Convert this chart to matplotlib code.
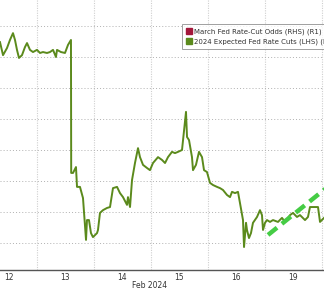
import matplotlib
matplotlib.use("Agg")
import matplotlib.pyplot as plt
from matplotlib.patches import Patch
from matplotlib import font_manager

# Day labels (trading days, Feb 2024); each day spans one unit on the x axis
day_labels = ["12", "13", "14", "15", "16", "19"]

# 2024 expected Fed rate cuts (LHS) - x in trading-day units, y in number of cuts
cuts_x = [0.351, 0.404, 0.474, 0.526, 0.579, 0.614, 0.649, 0.684, 0.737, 0.789,
          0.825, 0.877, 0.930, 1.000, 1.053, 1.105, 1.175, 1.228, 1.281, 1.333,
          1.351, 1.421, 1.491, 1.544, 1.596, 1.600, 1.632, 1.684, 1.702, 1.754,
          1.807, 1.860, 1.877, 1.912, 1.947, 1.982, 2.053, 2.070, 2.105, 2.158,
          2.228, 2.281, 2.333, 2.404, 2.456, 2.509, 2.579, 2.596, 2.632, 2.667,
          2.719, 2.772, 2.807, 2.860, 2.930, 2.982, 3.035, 3.123, 3.193, 3.246,
          3.298, 3.368, 3.421, 3.474, 3.544, 3.614, 3.632, 3.667, 3.719, 3.737,
          3.789, 3.842, 3.895, 3.930, 3.982, 4.035, 4.088, 4.158, 4.211, 4.263,
          4.333, 4.386, 4.421, 4.474, 4.526, 4.561, 4.614, 4.632, 4.667, 4.684,
          4.719, 4.754, 4.789, 4.860, 4.912, 4.947, 4.965, 5.000, 5.035, 5.088,
          5.140, 5.228, 5.298, 5.351, 5.439, 5.491, 5.561, 5.614, 5.702, 5.754,
          5.789, 5.877, 5.930, 5.965, 6.035]
cuts_y = [4.748, 4.706, 4.729, 4.755, 4.777, 4.755, 4.723, 4.697, 4.706, 4.732,
          4.745, 4.723, 4.716, 4.723, 4.713, 4.716, 4.713, 4.716, 4.723, 4.700,
          4.723, 4.716, 4.713, 4.739, 4.755, 4.326, 4.326, 4.345, 4.281, 4.281,
          4.245, 4.110, 4.174, 4.174, 4.132, 4.119, 4.132, 4.142, 4.197, 4.206,
          4.213, 4.216, 4.277, 4.281, 4.261, 4.248, 4.223, 4.248, 4.216, 4.303,
          4.358, 4.406, 4.377, 4.352, 4.342, 4.335, 4.358, 4.377, 4.368, 4.358,
          4.377, 4.394, 4.390, 4.394, 4.400, 4.523, 4.442, 4.432, 4.377, 4.335,
          4.352, 4.394, 4.377, 4.335, 4.329, 4.294, 4.287, 4.281, 4.277, 4.271,
          4.255, 4.248, 4.265, 4.261, 4.265, 4.229, 4.174, 4.087, 4.165, 4.142,
          4.116, 4.132, 4.165, 4.184, 4.206, 4.190, 4.142, 4.165, 4.174, 4.168,
          4.174, 4.168, 4.181, 4.168, 4.190, 4.197, 4.184, 4.190, 4.174, 4.184,
          4.216, 4.216, 4.216, 4.168, 4.181]

# Trend line (dashed)
trend_x = [5.053, 6.10]
trend_y = [4.126, 4.281]

legend_labels = ["March Fed Rate-Cut Odds (RHS) (R1)",
                 "2024 Expected Fed Rate Cuts (LHS) (L1)"]

names = {f.name for f in font_manager.fontManager.ttflist}
narrow = "Liberation Sans Narrow" if "Liberation Sans Narrow" in names else "DejaVu Sans"
leg_size = 6.0 if narrow == "Liberation Sans Narrow" else 5.0

fig = plt.figure(figsize=(3.24, 2.89), dpi=100)
fig.patch.set_facecolor("white")
ax = fig.add_axes([0, 19 / 289, 1, 270 / 289])
ax.set_xlim(0.351, 6.035)
ax.set_ylim(4.0129, 4.8839)

# grid
for d in range(1, 7):
    ax.axvline(d, color="#cfcfcf", lw=0.8, ls=(0, (1, 1.2)), zorder=0)
for g in [4.1, 4.2, 4.3, 4.4, 4.5, 4.6, 4.7, 4.8]:
    ax.axhline(g, color="#b0b0b0", lw=0.7, ls=(0, (1, 2.2)), zorder=0)

ax.plot(cuts_x, cuts_y, color="#5b8a1c", lw=1.4, zorder=3, solid_joinstyle="round")
ax.plot(trend_x, trend_y, color="#45cc45", lw=3.2, ls=(0, (2.6, 1.4)), zorder=4,
        solid_capstyle="butt", dash_capstyle="butt")

for s in ["left", "right", "top"]:
    ax.spines[s].set_visible(False)
ax.spines["bottom"].set_color("#555555")
ax.spines["bottom"].set_linewidth(1.0)
ax.set_yticks([])
ax.set_xticks([i + 0.5 for i in range(len(day_labels))])
ax.set_xticklabels(day_labels)
ax.tick_params(axis="x", length=0, pad=2.5, labelsize=5.5, labelcolor="#333333")

fig.text(150 / 324, 1 - 285 / 289, "Feb 2024", ha="center", va="center",
         fontsize=5.5, color="#333333")

handles = [Patch(facecolor="#a3173a", edgecolor="#a3173a"),
           Patch(facecolor="#5b8a1c", edgecolor="#5b8a1c")]
leg = fig.legend(handles, legend_labels, loc="upper left",
                 bbox_to_anchor=(182 / 324, 1 - 24 / 289),
                 prop={"family": narrow, "size": leg_size},
                 frameon=True, fancybox=False, handlelength=0.85, handleheight=0.85,
                 handletextpad=0.25, borderpad=0.6, labelspacing=0.5,
                 borderaxespad=0)
leg.get_frame().set_edgecolor("#888888")
leg.get_frame().set_linewidth(0.7)
for t in leg.get_texts():
    t.set_color("#333333")

fig.savefig("out.png", dpi=100, facecolor="white")
